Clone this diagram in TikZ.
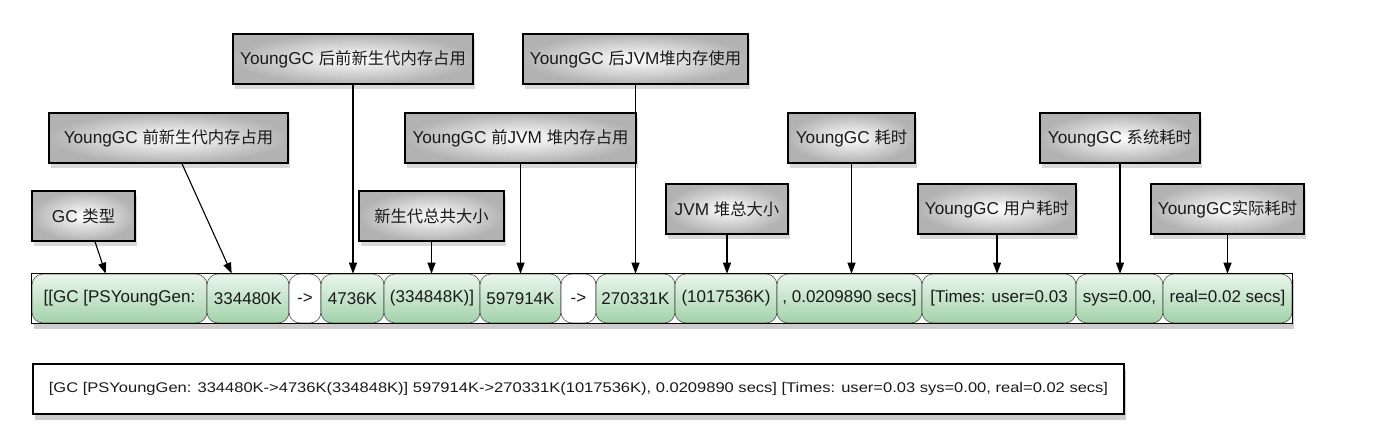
\documentclass[tikz,border=0pt]{standalone}
\usepackage{fontspec}
\usepackage{graphicx}
\setmainfont{Liberation Sans}
\newfontfamily\cjk{Noto Sans CJK SC}[Scale=0.95]
\usetikzlibrary{arrows.meta,shadows,backgrounds}
\definecolor{cellTop}{HTML}{EAF6EC}
\definecolor{cellBot}{HTML}{A2D2AA}
\definecolor{txt}{HTML}{1A1A1A}
\newcommand{\zh}[1]{{\cjk #1}}
\begin{document}
\begin{tikzpicture}[x=1pt,y=-1pt,
  lbl/.style={draw=black, line width=1.4pt, inner color=white, outer color=black!30,
    minimum height=50pt, inner sep=0pt, font=\fontsize{17.2}{20}\selectfont, text=txt,
    drop shadow={shadow xshift=1.5pt, shadow yshift=-5pt, opacity=0.3}},
  cell/.style={draw=black!70, line width=0.6pt, rounded corners=11pt,
    top color=cellTop, bottom color=cellBot, minimum height=49pt, inner sep=0pt,
    font=\fontsize{17}{20}\selectfont, text=txt},
  wcell/.style={cell, top color=white, bottom color=white},
  arr/.style={line width=1.1pt, -{Triangle[length=11pt,width=8pt]}},
  shadowbox/.style={fill=white, drop shadow={shadow xshift=2pt, shadow yshift=-6pt, opacity=0.4}}
]
\useasboundingbox (0,0) rectangle (1394,442);

% strip cells
\node[cell, minimum width=175pt] (c1) at (119.5,298.5) {[[GC [PSYoungGen:};
\node[cell, minimum width=82pt] (c2) at (248,298.5) {334480K};
\node[wcell, minimum width=32pt] (c3) at (305,298.5) {->};
\node[cell, minimum width=63pt] (c4) at (352.5,298.5) {4736K};
\node[cell, minimum width=96pt] (c5) at (432,298.5) {(334848K)]};
\node[cell, minimum width=81pt] (c6) at (520.5,298.5) {597914K};
\node[wcell, minimum width=35pt] (c7) at (578.5,298.5) {->};
\node[cell, minimum width=79pt] (c8) at (635.5,298.5) {270331K};
\node[cell, minimum width=102pt] (c9) at (726,298.5) {(1017536K)};
\node[cell, minimum width=145pt] (c10) at (849.5,298.5) {, 0.0209890 secs]};
\node[cell, minimum width=154pt] (c11) at (999,298.5) {[Times: user=0.03};
\node[cell, minimum width=87pt] (c12) at (1119.5,298.5) {sys=0.00,};
\node[cell, minimum width=129pt] (c13) at (1227.5,298.5) {real=0.02 secs]};

\begin{scope}[on background layer]
  \path[shadowbox] (c1.north west) rectangle (c13.south east);
\end{scope}
\draw[line width=0.9pt] (c1.north west) rectangle (c13.south east);

% labels
\node[lbl, minimum width=240pt] (lA) at (353,59) {YoungGC \zh{后前新生代内存占用}};
\node[lbl, minimum width=225pt] (lB) at (635.5,59) {YoungGC \zh{后}JVM\zh{堆内存使用}};
\node[lbl, minimum width=239pt] (lC) at (168.5,138) {YoungGC \zh{前新生代内存占用}};
\node[lbl, minimum width=231pt] (lD) at (520.5,138) {YoungGC \zh{前}JVM \zh{堆内存占用}};
\node[lbl, minimum width=127pt] (lE) at (851.5,138) {YoungGC \zh{耗时}};
\node[lbl, minimum width=160pt] (lF) at (1120,138) {YoungGC \zh{系统耗时}};
\node[lbl, minimum width=103pt] (lG) at (83.5,216) {GC \zh{类型}};
\node[lbl, minimum width=145pt] (lH) at (431.5,216) {\zh{新生代总共大小}};
\node[lbl, minimum width=122pt] (lI) at (727,209) {JVM \zh{堆总大小}};
\node[lbl, minimum width=158pt] (lJ) at (997,209) {YoungGC \zh{用户耗时}};
\node[lbl, minimum width=153pt] (lK) at (1227.5,209) {YoungGC\zh{实际耗时}};

% connectors
\draw[arr] ([xshift=11.5pt]lG.south) -- ([xshift=74pt]c1.north west);
\draw[arr] ([xshift=13.5pt]lC.south) -- ([xshift=25pt]c2.north west);
\draw[arr] (lA.south) -- (lA.south |- c4.north);
\draw[arr] (lH.south) -- (lH.south |- c5.north);
\draw[arr] (lD.south) -- (lD.south |- c6.north);
\draw[arr] (lB.south) -- (lB.south |- c8.north);
\draw[arr] (lI.south) -- (lI.south |- c9.north);
\draw[arr] (lE.south) -- (lE.south |- c10.north);
\draw[arr] (lJ.south) -- (lJ.south |- c11.north);
\draw[arr] (lF.south) -- (lF.south |- c12.north);
\draw[arr] (lK.south) -- (lK.south |- c13.north);

% bottom full line
\node[draw=black, line width=1.4pt, fill=white, minimum width=1091pt, minimum height=50pt,
  inner sep=0pt, text=txt, drop shadow={shadow xshift=2pt, shadow yshift=-6pt, opacity=0.4}]
  (full) at (578.5,389)
  {\scalebox{1.18}[1]{\fontsize{14}{17}\selectfont [GC [PSYoungGen: 334480K->4736K(334848K)] 597914K->270331K(1017536K), 0.0209890 secs] [Times: user=0.03 sys=0.00, real=0.02 secs]}};
\end{tikzpicture}
\end{document}
